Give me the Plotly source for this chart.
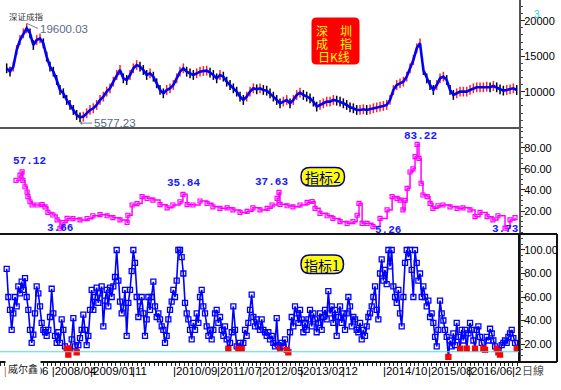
import plotly.graph_objects as go

# ---------------- data (x = trading-bar index) ----------------
k_start, k_step = 32, 16
k_close = [
    13294, 12825, 13529, 15876, 17283, 18222, 18926, 18222, 16579, 17283,
    17518, 16814, 14937, 13529, 12825, 11652, 10244, 9775, 8836, 8132,
    7428, 6724, 6396, 6490, 6959, 7428, 7663, 8132, 8836, 9305,
    10009, 10478, 11417, 12356, 13060, 11886, 11652, 12356, 13294, 13764,
    13529, 13060, 12356, 12590, 12121, 11182, 10244, 9775, 10244, 10478,
    10948, 11886, 12825, 13294, 12825, 12590, 12356, 12590, 12825,
    12919, 12966, 12684, 12356, 11886, 12356, 12121, 11417, 10948, 10478,
    10009, 9305, 8836, 9305, 10009, 10478, 10338, 10478, 10244, 10150,
    9775, 9305, 8836, 8367, 8602, 8836, 8367, 8836, 9540, 9868,
    9540, 9305, 9071, 8602, 7897, 8132, 8367, 8602, 8602, 8836,
    8742, 8602, 8367, 8132, 7804, 7663, 7428, 7428, 7522, 7428,
    7522, 7663, 7804, 7897, 7991, 8132, 8836, 10244, 10948, 11182,
    11417, 12121, 13294, 14468, 16110, 16814, 13060, 11886, 10948, 10244,
    10948, 11886, 12121, 11652, 10244, 9540, 9775, 10009, 10009, 10009,
    10244, 10478, 10619, 10619, 10619, 10713, 10619, 10807, 10619, 10338,
    10150, 10244, 10338, 10478, 10244,
]
k_high_label, k_high_bar = 19600.03, 130
k_low_label, k_low_bar = 5577.23, 384

ind2_bar = [
    77, 96, 106, 110, 120, 130, 134, 144, 154, 178, 202, 216, 230, 254, 274, 288,
    302, 322, 350, 384, 418, 446, 480, 514, 542, 576, 610, 614, 634, 658, 682, 706,
    734, 768, 802, 830, 864, 878, 898, 926, 960, 994, 1022, 1056, 1090, 1118, 1152,
    1186, 1214, 1248, 1282, 1306, 1330, 1339, 1344, 1378, 1406, 1440, 1474, 1498,
    1512, 1536, 1570, 1598, 1632, 1666, 1694, 1714, 1723, 1738, 1762, 1790, 1824,
    1858, 1882, 1906, 1920, 1934, 1944, 1954, 1968, 1982, 1992, 2002, 2011, 2021,
    2030, 2050, 2064, 2078, 2102, 2126, 2160, 2194, 2222, 2256, 2280, 2304, 2338,
    2366, 2390, 2424, 2448, 2472,
]
ind2_val = [
    49, 54, 57.12, 49, 43, 38, 33.6, 28.8, 25.7, 25.7, 26, 24, 18.7, 16.2, 11.5, 3.66,
    9, 13, 12.7, 11.5, 12.7, 15.5, 16.5, 15.5, 13.7, 11.5, 9.3, 16, 25.7, 27, 33.6, 32,
    30.4, 26, 23, 25.7, 28.8, 35.84, 26, 25.7, 29.5, 27.3, 24, 22.5, 23, 21, 18.7,
    19.7, 23, 21, 22.5, 25.7, 32, 37.63, 26.3, 25, 24, 25.7, 28.2, 29,
    22.5, 17.8, 15.5, 13, 9.9, 8.3, 9.9, 16, 27.3, 8.3, 8.3, 5.26, 13,
    21, 33.6, 32, 30.4, 21, 30, 41.5, 57, 60, 71.5, 83.22, 69.9, 46.3,
    35.2, 33.6, 27.3, 22.5, 25, 25.7, 24, 22.5, 23, 21, 14.6, 18.7, 14.6,
    11.5, 15.5, 3.73, 11.5, 13.7,
]
ind2_labels = [57.12, 3.66, 35.84, 37.63, 5.26, 83.22, 3.73]

ind1_start, ind1_step = 32, 8
ind1_val = [
    84, 60, 49, 32, 46, 60, 52, 69, 63, 73, 66, 76, 60, 49, 32, 21, 28, 46, 69, 63,
    52, 38, 32, 30, 27, 32, 43, 67, 46, 27, 21, 30, 21, 41, 32, 18, 16, 11, 16, 24,
    42, 18, 13, 19, 25, 32, 45, 32, 19, 27, 49, 66, 49, 60, 68, 55, 63, 69, 35, 57,
    66, 52, 68, 60, 69, 77, 100, 74, 56, 46, 51, 66, 27, 55, 66, 82, 100, 89, 60, 43,
    52, 60, 46, 27, 41, 60, 49, 60, 73, 52, 43, 46, 41, 35, 32, 21, 27, 41, 49, 56,
    66, 60, 74, 100, 100, 94, 80, 55, 46, 41, 32, 24, 38, 32, 46, 38,
    60, 66, 52, 46, 35, 27, 32, 24, 32, 46, 49, 38, 43, 32, 27, 35, 24, 16, 21, 30,
    52, 32, 18, 16, 21, 16, 21, 32, 27, 38, 49, 62, 43, 35, 41, 35, 32, 41, 32, 30,
    27, 30, 24, 27, 21, 18, 42, 19, 16, 21, 18, 24, 15, 13, 30, 43, 35, 52, 46, 38,
    49, 41, 30, 38, 32, 41, 49, 35, 46, 41, 30, 38, 46, 32, 43, 49, 41, 65, 46, 52,
    38, 49, 27, 43, 52, 38, 46, 32, 46, 60, 52, 35, 43, 41, 32, 30, 38, 24, 32, 27,
    35, 43, 46, 52, 60, 69, 49, 41, 80, 92, 74, 83, 71, 100, 86, 100, 69, 60, 55, 66,
    46, 35, 60, 89, 100, 94, 100, 83, 60, 100, 89, 74, 80, 60, 69, 60, 52, 57, 43, 46,
    38, 26, 18, 32, 57, 46, 40, 32, 26, 9, 23, 18, 29, 19, 38, 26, 16, 32, 23, 32,
    16, 29, 38, 32, 23, 16, 32, 35, 26, 21, 16, 15, 26, 23, 33, 29, 23, 18, 16, 13,
    11, 19, 21, 23, 21, 26, 29, 32, 25, 21, 16,
]
ind1_line = 13.4
ind1_low = 17

tick_bars = [19, 248, 432, 634, 830, 1042, 1243, 1440, 1642, 1838, 2054, 2246, 2458]
tick_labels = ["2007/06", "2008/04", "2009/01", "11", "2010/09", "2011/07", "2012/05",
               "2013/02", "12", "2014/10", "2015/08", "2016/06", "2"]

# ---------------- geometry helpers ----------------
W, H = 561, 390
ML, MR, MT, MB = 0, 42, 0, 28
PW, PH = W - ML - MR, H - MT - MB
X_MAX = 2491


def PX(v):
    return v / PW


def PY(v):
    return 1 - v / PH


def rrect(x0, y0, x1, y1, r):
    return (f"M {PX(x0+r)} {PY(y0)} L {PX(x1-r)} {PY(y0)} Q {PX(x1)} {PY(y0)} {PX(x1)} {PY(y0+r)} "
            f"L {PX(x1)} {PY(y1-r)} Q {PX(x1)} {PY(y1)} {PX(x1-r)} {PY(y1)} "
            f"L {PX(x0+r)} {PY(y1)} Q {PX(x0)} {PY(y1)} {PX(x0)} {PY(y1-r)} "
            f"L {PX(x0)} {PY(y0+r)} Q {PX(x0)} {PY(y0)} {PX(x0+r)} {PY(y0)} Z")


k_bar = [k_start + k_step * i for i in range(len(k_close))]
ind1_bar = [ind1_start + ind1_step * i for i in range(len(ind1_val))]

k_cols = ["#ff2020" if i > 0 and k_close[i] >= k_close[i - 1] else "#000000"
          for i in range(len(k_close))]
ind1_cols = ["#ff0000" if v < ind1_low else "#0000ff" for v in ind1_val]
ind1_sym = ["square" if v < ind1_low else "square-open" for v in ind1_val]

fig = go.Figure()

# top panel: K line
fig.add_trace(go.Scatter(x=k_bar, y=k_close, mode="markers", yaxis="y3",
                         marker=dict(symbol="line-ns-open", size=7, color=k_cols,
                                     line=dict(width=1.5, color=k_cols)),
                         hoverinfo="skip"))
fig.add_trace(go.Scatter(x=k_bar, y=k_close, mode="lines", yaxis="y3",
                         line=dict(color="#0000ff", width=2.6), hoverinfo="skip"))

# middle panel: indicator 2
fig.add_trace(go.Scatter(x=ind2_bar, y=ind2_val, mode="lines+markers", yaxis="y2",
                         line=dict(color="#ff00ff", width=1.5, shape="hv"),
                         marker=dict(symbol="square-open", size=4, color="#ff00ff",
                                     line=dict(width=1.2, color="#ff00ff")),
                         hoverinfo="skip"))

# bottom panel: indicator 1
fig.add_trace(go.Scatter(x=ind1_bar, y=ind1_val, mode="lines+markers", yaxis="y",
                         line=dict(color="#0000ff", width=1.6),
                         marker=dict(symbol=ind1_sym, size=5, color=ind1_cols,
                                     line=dict(width=1.3, color=ind1_cols)),
                         hoverinfo="skip"))

tickfont = dict(family="Liberation Sans, Arial, sans-serif", size=11, color="black")
yax_common = dict(side="right", anchor="x", showgrid=False, zeroline=False,
                  showline=True, linecolor="#555555", linewidth=2,
                  ticks="outside", ticklen=4, tickcolor="#222222", tickwidth=1,
                  ticklabelstandoff=-3,
                  tickfont=tickfont, tickmode="array", fixedrange=True)

D1 = 128 / PH
D2 = 234 / PH

layout = dict(
    width=W, height=H, template="none",
    margin=dict(l=ML, r=MR, t=MT, b=MB, pad=0, autoexpand=False),
    paper_bgcolor="white", plot_bgcolor="white", showlegend=False,
    xaxis=dict(domain=[0, 1], anchor="y", range=[0, X_MAX], showgrid=False,
               zeroline=False, showline=False, tickmode="array", tickvals=tick_bars,
               ticktext=["|" + t for t in tick_labels], ticklabelposition="outside right",
               tickangle=0, ticks="", fixedrange=True,
               tickfont=dict(family="Liberation Sans, Arial", size=11.5, color="black"),
               minor=dict(ticks="outside", tick0=248, dtick=20.5, ticklen=3,
                          tickcolor="#222222", showgrid=False)),
    yaxis=dict(domain=[0, 1 - D2], range=[4.7, 113.6], tickvals=[20, 40, 60, 80, 100],
               tickformat=".2f", minor=dict(ticks="outside", dtick=5, ticklen=2,
                                            tickcolor="#444444", showgrid=False),
               **yax_common),
    yaxis2=dict(domain=[1 - D2, 1 - D1], range=[-1.8, 98.7], tickvals=[20, 40, 60, 80],
                tickformat=".2f", minor=dict(ticks="outside", dtick=5, ticklen=2,
                                             tickcolor="#444444", showgrid=False),
                **yax_common),
    yaxis3=dict(domain=[1 - D1, 1], range=[4889, 22915], tickvals=[10000, 15000, 20000],
                tickformat="d", minor=dict(ticks="outside", dtick=1000, ticklen=2,
                                           tickcolor="#444444", showgrid=False),
                **yax_common),
)
fig.update_layout(**layout)

shapes = [
    # panel separators and frame
    dict(type="line", xref="paper", yref="paper", x0=0, x1=1, y0=1 - D1, y1=1 - D1,
         line=dict(color="#555555", width=2)),
    dict(type="line", xref="paper", yref="paper", x0=0, x1=PX(557), y0=1 - D2, y1=1 - D2,
         line=dict(color="#111111", width=2)),
    dict(type="line", xref="paper", yref="paper", x0=0, x1=PX(557), y0=0, y1=0,
         line=dict(color="#111111", width=2)),
    dict(type="line", xref="paper", yref="paper", x0=PX(557), x1=PX(557), y0=0, y1=1 - D2,
         line=dict(color="#111111", width=2)),
    dict(type="line", xref="paper", yref="paper", x0=1, x1=1, y0=0, y1=1 - D2,
         line=dict(color="#111111", width=2)),
    # cyan threshold line
    dict(type="line", xref="paper", yref="y", x0=0, x1=1, y0=ind1_line, y1=ind1_line,
         line=dict(color="#40e0f0", width=1.2)),
    # red title box
    dict(type="path", xref="paper", yref="paper", path=rrect(311.5, 17.5, 359.5, 64.5, 5),
         fillcolor="#ff0000", line=dict(width=0)),
    # yellow labels
    dict(type="path", xref="paper", yref="paper", path=rrect(301, 167.5, 344.5, 186, 9),
         fillcolor="#ffff00", line=dict(color="#000080", width=1.5)),
    dict(type="path", xref="paper", yref="paper", path=rrect(301, 255, 343.5, 273.5, 9),
         fillcolor="#ffff00", line=dict(color="#000080", width=1.5)),
]
fig.update_layout(shapes=shapes)

ann = []


def txt(text, x, y, size, color, family="Noto Sans CJK SC", xanchor="center", **kw):
    ann.append(dict(text=text, x=PX(x), y=PY(y), xref="paper", yref="paper",
                    xanchor=xanchor, yanchor="middle", showarrow=False,
                    font=dict(family=family, size=size, color=color), **kw))


txt("深证成指", 7, 16, 8.5, "#333333", xanchor="left")
txt("深　圳", 334, 30.5, 12, "#ffff00")
txt("成　指", 334, 43.5, 12, "#ffff00")
txt("日K线", 334, 56.5, 12, "#ffff00")
txt("3", 536.5, 15, 10, "#22ccee", family="Liberation Sans", )
txt("指标2", 322.8, 177, 14, "#000066")
txt("指标1", 322.3, 264.5, 14, "#000066")
txt("威尔鑫", 5, 368.5, 10, "#222222", xanchor="left", bgcolor="white", borderpad=2)
txt("日線", 519.5, 370, 11, "#555555", xanchor="left")

# extreme labels on K line
ann.append(dict(x=k_high_bar, y=k_high_label, xref="x", yref="y3", text=f"{k_high_label:.2f}",
                showarrow=True, arrowhead=0, arrowwidth=1, arrowcolor="#7f8090",
                ax=11, ay=5, xanchor="left", yanchor="middle",
                font=dict(family="Liberation Sans, Arial", size=11.5, color="#5a6a8a")))
ann.append(dict(x=k_low_bar, y=k_low_label, xref="x", yref="y3", text=f"{k_low_label:.2f}",
                showarrow=True, arrowhead=1, arrowsize=0.7, arrowwidth=1, arrowcolor="#7f8090",
                ax=12, ay=0, xanchor="left", yanchor="middle",
                font=dict(family="Liberation Sans, Arial", size=11.5, color="#5a6a8a")))

# extreme labels on indicator 2
shifts = [(7, 11), (0, 0), (1, 11), (-7, 10), (15, -3), (3, 8), (0, -1)]
for v, (dx, dy) in zip(ind2_labels, shifts):
    b = ind2_bar[ind2_val.index(v)]
    ann.append(dict(x=b, y=v, xref="x", yref="y2", text=f"{v:.2f}", showarrow=False,
                    xshift=dx, yshift=dy, xanchor="center", yanchor="middle",
                    font=dict(family="Liberation Mono, DejaVu Sans Mono", size=11,
                              color="#1a1aff", weight="bold")))

fig.update_layout(annotations=ann)
fig.write_html("out.html", config={"displayModeBar": False, "staticPlot": True},
               post_script="document.body.style.margin='0px';")
